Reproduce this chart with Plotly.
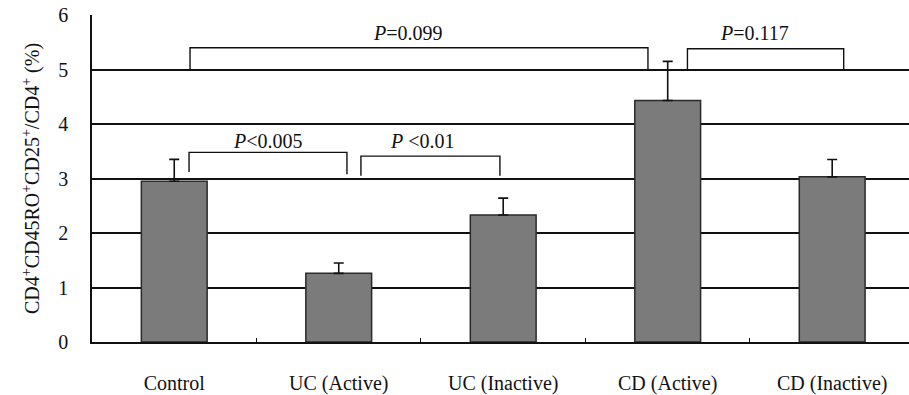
import plotly.graph_objects as go

categories = ["Control", "UC (Active)", "UC (Inactive)", "CD (Active)", "CD (Inactive)"]
means = [2.95, 1.26, 2.33, 4.43, 3.03]
sem_upper = [0.40, 0.19, 0.31, 0.72, 0.32]

# brackets: (x_left, x_right, y_left_foot, y_right_foot, y_top)
bracket_x0 = [0.09, 1.135, 0.096, 3.12]
bracket_x1 = [1.05, 1.98, 2.88, 4.07]
bracket_yl = [3.12, 3.05, 5.0, 5.0]
bracket_yr = [3.08, 3.05, 5.0, 5.0]
bracket_yt = [3.48, 3.41, 5.40, 5.38]
p_labels = ["<i>P</i>&lt;0.005", "<i>P</i> &lt;0.01", "<i>P</i>=0.099", "<i>P</i>=0.117"]
p_label_x = [0.57, 1.51, 1.42, 3.53]
p_label_y = [3.68, 3.68, 5.67, 5.67]
boundary_ticks = [0.5, 1.5, 2.5, 3.5]

FONT = "Liberation Serif"
xs = list(range(len(categories)))

fig = go.Figure()
fig.add_trace(go.Bar(
    x=xs, y=means, width=0.4,
    marker=dict(color="#7b7b7b", line=dict(color="#2a2a2a", width=1.5)),
    error_y=dict(type="data", symmetric=False, array=sem_upper,
                 arrayminus=[0] * len(means), color="#111111",
                 thickness=1.6, width=5),
    showlegend=False,
))

for x0, x1, yl, yr, yt in zip(bracket_x0, bracket_x1, bracket_yl, bracket_yr, bracket_yt):
    fig.add_trace(go.Scatter(
        x=[x0, x0, x1, x1], y=[yl, yt, yt, yr], mode="lines",
        line=dict(color="#111111", width=1.4), showlegend=False, hoverinfo="skip",
    ))

for t, x, y in zip(p_labels, p_label_x, p_label_y):
    fig.add_annotation(x=x, y=y, text=t, showarrow=False,
                       font=dict(family=FONT, size=20, color="#111111"))

# invisible trace for the secondary x-axis carrying boundary ticks
fig.add_trace(go.Scatter(x=[boundary_ticks[0], boundary_ticks[-1]], y=[0, 0], xaxis="x2",
                         mode="markers", marker=dict(opacity=0), showlegend=False,
                         hoverinfo="skip"))

fig.update_layout(
    width=909, height=395,
    margin=dict(l=92, r=0, t=15, b=49),
    paper_bgcolor="white", plot_bgcolor="white",
    font=dict(family=FONT, size=20, color="#111111"),
    xaxis=dict(
        range=[-0.5, 4.467], tickvals=xs, ticktext=categories,
        ticks="", showgrid=False, showline=True, linecolor="#111111", linewidth=1.5,
        zeroline=False, ticklabelstandoff=22,
        tickfont=dict(family=FONT, size=20, color="#111111"),
    ),
    xaxis2=dict(
        range=[-0.5, 4.467], overlaying="x", anchor="y", side="bottom",
        tickvals=boundary_ticks, showticklabels=False,
        ticks="inside", ticklen=4, tickwidth=1.2, tickcolor="#111111",
        showgrid=False, showline=False, zeroline=False,
    ),
    yaxis=dict(
        range=[0, 6], tickvals=[0, 1, 2, 3, 4, 5, 6],
        showgrid=True, gridcolor="#111111", gridwidth=1.5,
        showline=True, linecolor="#111111", linewidth=1.5,
        zeroline=False, ticks="", ticklabelstandoff=18,
        tickfont=dict(family=FONT, size=20, color="#111111"),
        title=dict(text="CD4<sup>+</sup>CD45RO<sup>+</sup>CD25<sup>+</sup>/CD4<sup>+</sup> (%)",
                   font=dict(family=FONT, size=20, color="#111111"), standoff=13),
    ),
)

fig.write_html("out.html")
